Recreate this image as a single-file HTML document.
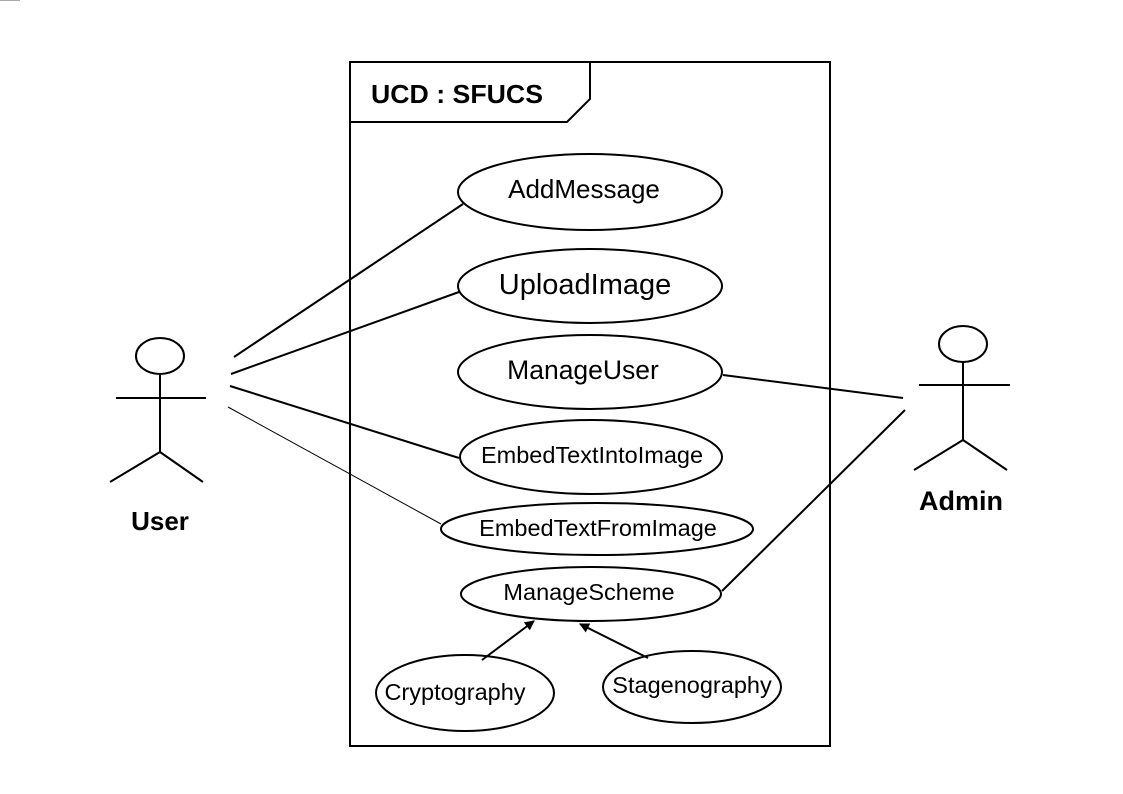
<!DOCTYPE html>
<html><head><meta charset="utf-8"><style>
html,body{margin:0;padding:0;background:#fff;}
svg{display:block;}
text{font-family:"Liberation Sans",sans-serif;fill:#000;}
</style></head><body>
<svg width="1123" height="794" viewBox="0 0 1123 794" xmlns="http://www.w3.org/2000/svg">
<defs><marker id="a" markerWidth="10" markerHeight="10" refX="9" refY="5" orient="auto" markerUnits="userSpaceOnUse"><path d="M0,0 L10,5 L0,10 z" fill="#000"/></marker></defs>
<line x1="0" y1="0.5" x2="20" y2="0.5" stroke="#aaa" stroke-width="1"/>
<g fill="none" stroke="#000" stroke-width="2">
<rect x="350" y="62" width="480" height="684"/>
<path d="M350,122 H567 L590,99 V62"/>
<ellipse cx="590" cy="192" rx="132" ry="38"/>
<ellipse cx="590" cy="286" rx="132" ry="37"/>
<ellipse cx="590" cy="372" rx="132" ry="37"/>
<ellipse cx="591" cy="457" rx="131" ry="37"/>
<ellipse cx="597" cy="529" rx="156" ry="26"/>
<ellipse cx="591" cy="594" rx="130" ry="27"/>
<ellipse cx="465" cy="693" rx="89" ry="38"/>
<ellipse cx="692" cy="687" rx="89" ry="36"/>
<line x1="234" y1="357" x2="463" y2="204"/>
<line x1="231" y1="374" x2="459" y2="292"/>
<line x1="230" y1="386" x2="459" y2="458"/>
<line x1="723" y1="375" x2="903" y2="398"/>
<line x1="722" y1="591" x2="905" y2="410"/>
<line x1="482" y1="660" x2="534" y2="621" marker-end="url(#a)"/>
<line x1="648" y1="658" x2="580" y2="624" marker-end="url(#a)"/>
<ellipse cx="160" cy="356" rx="24" ry="18"/>
<line x1="160" y1="374" x2="160" y2="452"/>
<line x1="116" y1="398" x2="206" y2="398"/>
<path d="M110,482 L160,452 L203,482"/>
<ellipse cx="963" cy="344" rx="24" ry="18"/>
<line x1="963" y1="362" x2="963" y2="440"/>
<line x1="919" y1="385" x2="1010" y2="385"/>
<path d="M914,470 L963,440 L1007,470"/>
</g>
<line x1="228" y1="407" x2="441" y2="524" stroke="#000" stroke-width="1"/>
<text x="371" y="103" font-size="26" font-weight="bold" textLength="172" lengthAdjust="spacingAndGlyphs">UCD : SFUCS</text>
<g text-anchor="middle">
<text x="584" y="198" font-size="26">AddMessage</text>
<text x="585" y="294" font-size="29">UploadImage</text>
<text x="583" y="379" font-size="26.5">ManageUser</text>
<text x="592" y="463" font-size="23.5">EmbedTextIntoImage</text>
<text x="598" y="536" font-size="23.5">EmbedTextFromImage</text>
<text x="589" y="600" font-size="23.5">ManageScheme</text>
<text x="455" y="700" font-size="23.5">Cryptography</text>
<text x="692" y="693" font-size="23.5">Stagenography</text>
<text x="160" y="530" font-size="26" font-weight="bold">User</text>
<text x="961" y="510" font-size="27" font-weight="bold">Admin</text>
</g>
</svg>
</body></html>
